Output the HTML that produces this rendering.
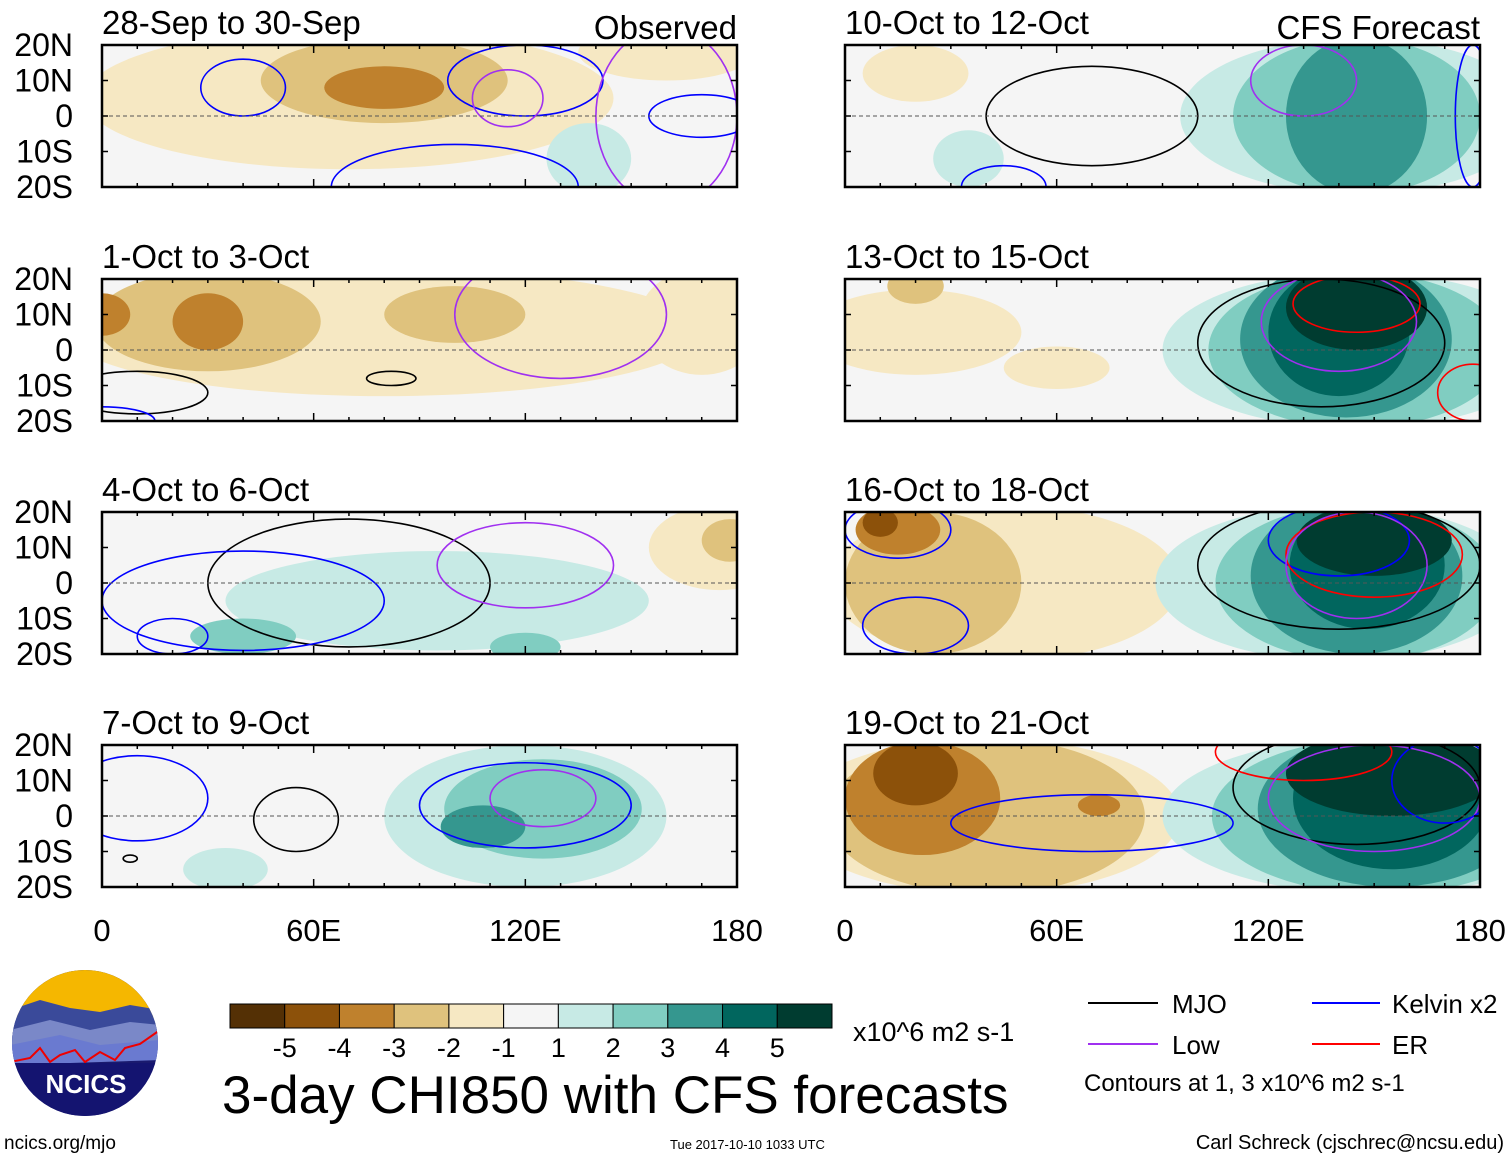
<!DOCTYPE html>
<html><head><meta charset="utf-8">
<style>
html,body{margin:0;padding:0;background:#fff;}
svg{display:block;font-family:"Liberation Sans",sans-serif;}
</style></head>
<body>
<svg id="chart" width="1510" height="1159" viewBox="0 0 1510 1159">
<defs>
<clipPath id="logoclip"><circle cx="85" cy="1043" r="73"/></clipPath>
</defs>
<g id="panels"></g>
<g id="xaxis"></g>

<g clip-path="url(#logoclip)">
<rect x="10" y="968" width="150" height="150" fill="#1a1a6e"/>
<rect x="10" y="968" width="150" height="50" fill="#f5b700"/>
<polygon points="10,1010 40,1000 70,1008 100,1012 130,1005 160,1010 160,1035 10,1040" fill="#3a4a9a"/>
<polygon points="10,1030 50,1020 90,1030 130,1022 160,1025 160,1050 10,1055" fill="#7a88c8"/>
<polygon points="10,1045 60,1035 100,1045 160,1040 160,1060 10,1065" fill="#6a7ad0"/>
<polyline points="10,1062 30,1058 40,1048 50,1062 60,1055 75,1050 85,1062 100,1052 115,1060 125,1048 140,1044 160,1030" fill="none" stroke="#e00" stroke-width="2"/>
<rect x="10" y="1063" width="150" height="60" fill="#141470"/>
</g>
<text x="86" y="1093" text-anchor="middle" font-size="26" font-weight="bold" fill="#fff">NCICS</text>
<text x="4" y="1149" font-size="19" fill="#000">ncics.org/mjo</text>

<g id="colorbar"></g>
<text x="853" y="1041" font-size="27">x10^6 m2 s-1</text>
<text x="222" y="1113" font-size="53">3-day CHI850 with CFS forecasts</text>
<text x="670" y="1149" font-size="13">Tue 2017-10-10 1033 UTC</text>
<text x="1504" y="1149" font-size="20" text-anchor="end">Carl Schreck (cjschrec@ncsu.edu)</text>

<g>
<g><line x1="1088" y1="1003" x2="1158" y2="1003" stroke="#000" stroke-width="2"/><text x="1172" y="1013" font-size="26">MJO</text></g>
<g><line x1="1312" y1="1003" x2="1380" y2="1003" stroke="#0000ff" stroke-width="2"/><text x="1392" y="1013" font-size="26">Kelvin x2</text></g>
<g><line x1="1088" y1="1044" x2="1158" y2="1044" stroke="#a030f0" stroke-width="2"/><text x="1172" y="1054" font-size="26">Low</text></g>
<g><line x1="1312" y1="1044" x2="1380" y2="1044" stroke="#ff0000" stroke-width="2"/><text x="1392" y="1054" font-size="26">ER</text></g>
<text x="1084" y="1091" font-size="24">Contours at 1, 3 x10^6 m2 s-1</text>
</g>
</svg>
<script>
const levelLabels = ["-5","-4","-3","-2","-1","1","2","3","4","5"];
const levelColors = ["#543005","#8c510a","#bf812d","#dfc27d","#f6e8c3","#f5f5f5","#c7eae5","#80cdc1","#35978f","#01665e","#003c30"];
const panelTitles = ["28-Sep to 30-Sep","1-Oct to 3-Oct","4-Oct to 6-Oct","7-Oct to 9-Oct","10-Oct to 12-Oct","13-Oct to 15-Oct","16-Oct to 18-Oct","19-Oct to 21-Oct"];
const latTicks = [20,10,0,-10,-20];
const latTickLabels = ["20N","10N","0","10S","20S"];
const lonTicks = [0,60,120,180];
const lonTickLabels = ["0","60E","120E","180"];
const blobs0 = [[70,5,75,20,4],[160,18,25,8,4],[80,10,35,12,3],[80,8,17,6,2],[138,-12,12,10,6]];
const blobs1 = [[80,5,90,18,4],[170,8,18,15,4],[30,8,32,14,3],[30,8,10,8,2],[100,10,20,8,3],[0,10,8,6,2]];
const blobs2 = [[95,-5,60,14,6],[175,10,20,12,4],[178,12,8,6,3],[40,-15,15,5,7],[120,-18,10,4,7]];
const blobs3 = [[120,0,40,20,6],[125,2,28,14,7],[108,-3,12,6,8],[35,-15,12,6,6]];
const blobs4 = [[145,0,50,22,6],[145,0,35,22,7],[145,0,20,22,8],[20,12,15,8,4],[35,-12,10,8,6]];
const blobs5 = [[145,0,55,22,6],[145,0,42,22,7],[142,3,30,22,8],[140,5,20,18,9],[145,12,20,12,10],[20,5,30,12,4],[20,18,8,5,3],[60,-5,15,6,4]];
const blobs6 = [[45,0,50,22,4],[25,0,25,20,3],[15,15,12,7,2],[10,17,5,4,1],[140,0,52,22,6],[145,0,40,22,7],[145,2,30,22,8],[148,5,22,18,9],[150,12,22,10,10]];
const blobs7 = [[40,0,55,22,4],[40,0,45,22,3],[22,5,22,16,2],[20,12,12,9,1],[72,3,6,3,2],[150,0,60,22,6],[152,0,48,22,7],[155,2,38,22,8],[155,5,28,20,9],[155,12,30,12,10]];
const blobSets = [blobs0,blobs1,blobs2,blobs3,blobs4,blobs5,blobs6,blobs7];
const contours0 = [[40,8,12,8,"blue"],[120,10,22,10,"blue"],[115,5,10,8,"purple"],[160,0,20,25,"purple"],[170,0,15,6,"blue"],[100,-20,35,12,"blue"]];
const contours1 = [[82,-8,7,2,"black"],[10,-12,20,6,"black"],[130,10,30,18,"purple"],[0,-20,15,4,"blue"]];
const contours2 = [[70,0,40,18,"black"],[120,5,25,12,"purple"],[40,-5,40,14,"blue"],[20,-15,10,5,"blue"]];
const contours3 = [[55,-1,12,9,"black"],[120,3,30,12,"blue"],[125,5,15,8,"purple"],[10,5,20,12,"blue"],[8,-12,2,1,"black"]];
const contours4 = [[70,0,30,14,"black"],[130,10,15,10,"purple"],[45,-20,12,6,"blue"],[178,0,5,20,"blue"]];
const contours5 = [[135,2,35,18,"black"],[145,13,18,8,"red"],[140,8,22,14,"purple"],[178,-12,10,8,"red"]];
const contours6 = [[140,5,40,18,"black"],[140,12,20,10,"blue"],[150,8,25,12,"red"],[145,5,20,15,"purple"],[20,-12,15,8,"blue"],[15,15,15,8,"blue"]];
const contours7 = [[145,8,35,16,"black"],[130,18,25,8,"red"],[150,5,30,15,"purple"],[70,-2,40,8,"blue"],[170,10,15,12,"blue"]];
const contourSets = [contours0,contours1,contours2,contours3,contours4,contours5,contours6,contours7];
const contourColors = {black:"#000",blue:"#0000ff",purple:"#a030f0",red:"#ff0000"};

const NS="http://www.w3.org/2000/svg";
function mk(tag,attrs,parent){const e=document.createElementNS(NS,tag);for(const k in attrs)e.setAttribute(k,attrs[k]);parent.appendChild(e);return e;}
const colX=[102,845], rowY=[45,279,512,745], PW=635, PH=142;
const panels=document.getElementById('panels');
for(let p=0;p<8;p++){
  const x0=colX[Math.floor(p/4)], y0=rowY[p%4];
  const sx=lon=>x0+lon*PW/180, sy=lat=>y0+(20-lat)*PH/40;
  const g=mk('g',{},panels);
  
  
  const cp=mk('clipPath',{id:'clip'+p},g);
  mk('rect',{x:x0,y:y0,width:PW,height:PH},cp);
  const inner=mk('g',{'clip-path':'url(#clip'+p+')'},g);
  mk('rect',{x:x0,y:y0,width:PW,height:PH,fill:levelColors[5]},inner);
  blobSets[p].forEach(b=>{
    const e=mk('ellipse',{cx:sx(b[0]),cy:sy(b[1]),rx:b[2]*PW/180,ry:b[3]*PH/40,fill:levelColors[b[4]]},inner);
    
    
  });
  contourSets[p].forEach(c=>{
    const e=mk('ellipse',{cx:sx(c[0]),cy:sy(c[1]),rx:c[2]*PW/180,ry:c[3]*PH/40,fill:'none',stroke:contourColors[c[4]],'stroke-width':1.6},inner);
    
    
  });
  mk('line',{x1:x0,y1:sy(0),x2:x0+PW,y2:sy(0),stroke:'#555','stroke-dasharray':'4,3','stroke-width':1},inner);
  mk('rect',{x:x0,y:y0,width:PW,height:PH,fill:'none',stroke:'#000','stroke-width':2.5},g);
  for(let lon=0;lon<=180;lon+=10){
    const L=lon%60===0?8:4;
    mk('line',{x1:sx(lon),y1:y0,x2:sx(lon),y2:y0+L,stroke:'#000','stroke-width':1.5},g);
    mk('line',{x1:sx(lon),y1:y0+PH,x2:sx(lon),y2:y0+PH-L,stroke:'#000','stroke-width':1.5},g);
  }
  latTicks.forEach((lat,i)=>{
    mk('line',{x1:x0,y1:sy(lat),x2:x0+6,y2:sy(lat),stroke:'#000','stroke-width':1.5},g);
    mk('line',{x1:x0+PW,y1:sy(lat),x2:x0+PW-6,y2:sy(lat),stroke:'#000','stroke-width':1.5},g);
    if(p<4){const t=mk('text',{x:73,y:sy(lat)+11,'text-anchor':'end','font-size':32},g);t.textContent=latTickLabels[i];
      
      }
  });
  const t=mk('text',{x:x0,y:y0-11,'font-size':33},g);t.textContent=panelTitles[p];
  
  
  if(p%4===0){const s=mk('text',{x:x0+PW,y:y0-6,'font-size':33,'text-anchor':'end'},g);s.textContent=p===0?'Observed':'CFS Forecast';
    
    }
}
const xa=document.getElementById('xaxis');
colX.forEach(x0=>{lonTicks.forEach((lon,i)=>{const t=mk('text',{x:x0+lon*PW/180,y:941,'text-anchor':'middle','font-size':31},xa);t.textContent=lonTickLabels[i];
  
  });});
const cb=document.getElementById('colorbar');
const cbx=230,cbw=602/11;
levelColors.forEach((c,i)=>{const r=mk('rect',{x:cbx+i*cbw,y:1004,width:cbw,height:24,fill:c,stroke:'#000','stroke-width':1},cb);
  
  });
levelLabels.forEach((l,i)=>{const t=mk('text',{x:cbx+(i+1)*cbw,y:1057,'text-anchor':'middle','font-size':27},cb);t.textContent=l;
  
  });
</script>
</body></html>
